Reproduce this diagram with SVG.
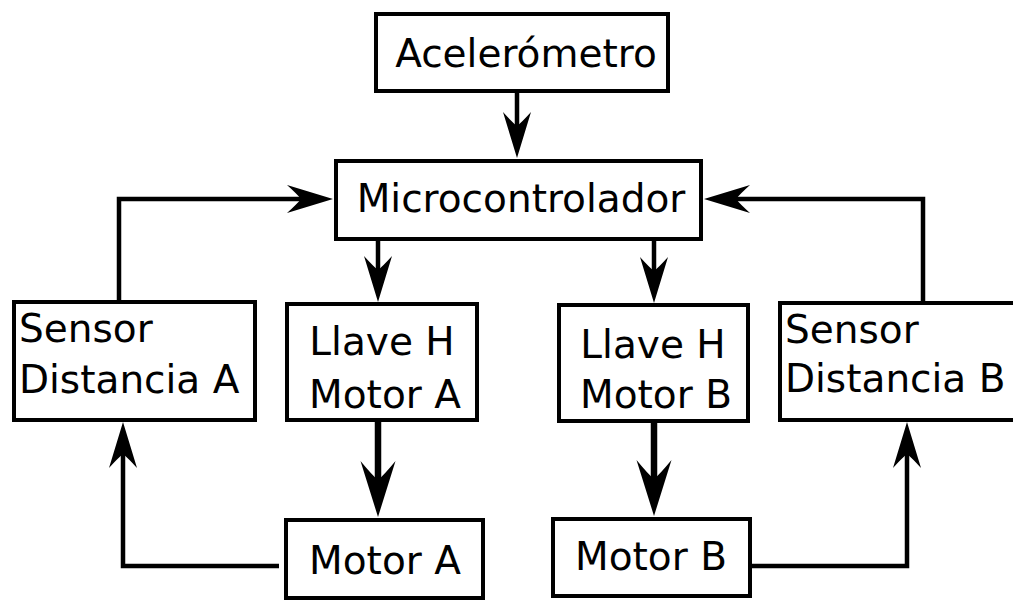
<svg xmlns="http://www.w3.org/2000/svg" width="1013" height="601" viewBox="0 0 1013 601">
  <style>
    .box { fill: #ffffff; stroke: #000000; stroke-width: 4; }
    .lbl { font-family: "DejaVu Sans", "Liberation Sans", sans-serif; font-size: 39px; fill: #000000; }
    .mid { text-anchor: middle; }
    .wire { fill: none; stroke: #000000; stroke-width: 4.5; stroke-linejoin: miter; }
    .wire.heavy { stroke-width: 6.5; }
  </style>
  <defs>
    <!-- concave arrowhead; reference point sits in the notch so the wire ends there -->
    <marker id="arrow" markerUnits="userSpaceOnUse" viewBox="-46 -15 48 30" refX="-32" refY="0"
            markerWidth="48" markerHeight="30" orient="auto" overflow="visible">
      <path d="M0,0 L-46,-14 Q-36,-5 -32,0 Q-36,5 -46,14 Z" fill="#000000"/>
    </marker>
    <marker id="arrowBig" markerUnits="userSpaceOnUse" viewBox="-56 -18 58 36" refX="-37" refY="0"
            markerWidth="58" markerHeight="36" orient="auto" overflow="visible">
      <path d="M0,0 L-56,-17.5 Q-42,-6 -37,0 Q-42,6 -56,17.5 Z" fill="#000000"/>
    </marker>
  </defs>

  <rect width="1013" height="601" fill="#ffffff"/>

  <g id="connectors">
    <!-- Acelerómetro to Microcontrolador -->
    <path class="wire" d="M517,93 V126" marker-end="url(#arrow)"/>
    <!-- Microcontrolador to both H bridges -->
    <path class="wire" d="M378,241 V270" marker-end="url(#arrow)"/>
    <path class="wire" d="M654,241 V271" marker-end="url(#arrow)"/>
    <!-- H bridges to motors -->
    <path class="wire heavy" d="M378,422 V480" marker-end="url(#arrowBig)"/>
    <path class="wire heavy" d="M654,423 V479" marker-end="url(#arrowBig)"/>
    <!-- distance sensors back to Microcontrolador -->
    <path class="wire" d="M119,302 V199 H301" marker-end="url(#arrow)"/>
    <path class="wire" d="M923,303 V199 H736" marker-end="url(#arrow)"/>
    <!-- motors to distance sensors -->
    <path class="wire" d="M279,566 H123 V454" marker-end="url(#arrow)"/>
    <path class="wire" d="M752,566 H907 V454" marker-end="url(#arrow)"/>
  </g>

  <g id="acelerometro">
    <rect class="box" x="376" y="14" width="292" height="77"/>
    <text class="lbl mid" x="526" y="67">Acelerómetro</text>
  </g>

  <g id="microcontrolador">
    <rect class="box" x="336" y="161" width="365" height="78"/>
    <text class="lbl mid" x="521" y="212">Microcontrolador</text>
  </g>

  <g id="sensor-distancia-a">
    <rect class="box" x="14" y="302" width="241" height="118"/>
    <text class="lbl" x="19" y="342">Sensor</text>
    <text class="lbl" x="19" y="393">Distancia A</text>
  </g>

  <g id="llave-h-motor-a">
    <rect class="box" x="287" y="304" width="190" height="116"/>
    <text class="lbl mid" x="382" y="355">Llave H</text>
    <text class="lbl mid" x="385" y="408">Motor A</text>
  </g>

  <g id="motor-a">
    <rect class="box" x="286" y="520" width="197" height="78"/>
    <text class="lbl mid" x="385" y="574">Motor A</text>
  </g>

  <g id="llave-h-motor-b">
    <rect class="box" x="559" y="305" width="189" height="116"/>
    <text class="lbl mid" x="653" y="358">Llave H</text>
    <text class="lbl mid" x="656" y="408">Motor B</text>
  </g>

  <g id="motor-b">
    <rect class="box" x="553" y="519" width="197" height="77"/>
    <text class="lbl mid" x="651" y="570">Motor B</text>
  </g>

  <g id="sensor-distancia-b">
    <rect class="box" x="780" y="303" width="240" height="117"/>
    <text class="lbl" x="785" y="343">Sensor</text>
    <text class="lbl" x="785" y="392">Distancia B</text>
  </g>
</svg>
